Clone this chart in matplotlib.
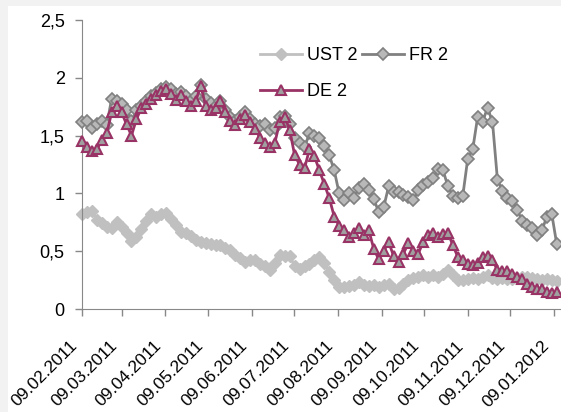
import matplotlib
matplotlib.use("Agg")
import matplotlib.pyplot as plt
import matplotlib.dates as mdates
from matplotlib.patches import Rectangle
from matplotlib.ticker import FuncFormatter
from matplotlib.transforms import ScaledTranslation
import pandas as pd

plt.rcParams["font.family"] = ["Liberation Sans", "DejaVu Sans"]

# 2y government yields, sampled every 3.5 days from 09.02.2011
dates = pd.date_range("2011-02-09", periods=97, freq="84h")

ust2 = [0.82, 0.84, 0.85, 0.77, 0.74, 0.71, 0.70, 0.75, 0.71, 0.66,
        0.59, 0.62, 0.69, 0.76, 0.82, 0.80, 0.82, 0.83, 0.78, 0.73,
        0.67, 0.66, 0.63, 0.60, 0.58, 0.57, 0.56, 0.55, 0.55, 0.53,
        0.51, 0.47, 0.44, 0.41, 0.42, 0.42, 0.39, 0.37, 0.34, 0.40,
        0.47, 0.46, 0.46, 0.37, 0.35, 0.37, 0.39, 0.42, 0.45, 0.40,
        0.32, 0.25, 0.19, 0.19, 0.20, 0.21, 0.23, 0.21, 0.20, 0.21,
        0.19, 0.21, 0.22, 0.17, 0.18, 0.22, 0.25, 0.27, 0.28, 0.29,
        0.28, 0.29, 0.28, 0.30, 0.34, 0.29, 0.25, 0.25, 0.26, 0.27,
        0.26, 0.28, 0.29, 0.27, 0.26, 0.27, 0.26, 0.26, 0.27, 0.28,
        0.28, 0.27, 0.26, 0.25, 0.26, 0.25, 0.24]

fr2 = [1.62, 1.63, 1.57, 1.60, 1.63, 1.59, 1.82, 1.80, 1.77, 1.72,
       1.63, 1.72, 1.76, 1.80, 1.84, 1.87, 1.90, 1.92, 1.90, 1.86,
       1.88, 1.84, 1.80, 1.84, 1.94, 1.82, 1.78, 1.76, 1.80, 1.72,
       1.66, 1.63, 1.66, 1.70, 1.64, 1.60, 1.58, 1.60, 1.55, 1.57,
       1.66, 1.67, 1.60, 1.48, 1.44, 1.40, 1.52, 1.50, 1.48, 1.41,
       1.33, 1.20, 1.00, 0.94, 1.00, 0.96, 1.05, 1.08, 1.03, 0.95,
       0.84, 0.88, 1.06, 1.01, 1.01, 0.99, 0.97, 0.94, 1.03, 1.07,
       1.10, 1.13, 1.21, 1.20, 1.06, 0.98, 0.96, 0.98, 1.30, 1.38,
       1.66, 1.62, 1.74, 1.62, 1.12, 1.02, 0.96, 0.93, 0.86, 0.76,
       0.73, 0.70, 0.64, 0.68, 0.80, 0.82, 0.56]

de2 = [1.45, 1.40, 1.37, 1.38, 1.46, 1.52, 1.70, 1.76, 1.70, 1.60,
       1.50, 1.64, 1.74, 1.77, 1.82, 1.85, 1.89, 1.90, 1.86, 1.81,
       1.85, 1.80, 1.76, 1.80, 1.93, 1.76, 1.72, 1.74, 1.80, 1.70,
       1.63, 1.59, 1.64, 1.68, 1.62, 1.56, 1.48, 1.44, 1.40, 1.44,
       1.62, 1.66, 1.55, 1.33, 1.25, 1.22, 1.38, 1.32, 1.20, 1.08,
       0.96, 0.80, 0.72, 0.68, 0.62, 0.66, 0.70, 0.64, 0.68, 0.52,
       0.43, 0.50, 0.58, 0.46, 0.41, 0.48, 0.57, 0.50, 0.48, 0.58,
       0.64, 0.66, 0.62, 0.65, 0.66, 0.55, 0.45, 0.42, 0.39, 0.38,
       0.40, 0.45, 0.46, 0.42, 0.34, 0.33, 0.33, 0.30, 0.28, 0.26,
       0.22, 0.19, 0.17, 0.17, 0.15, 0.14, 0.15]

fig = plt.figure(figsize=(5.61, 4.12), dpi=100)
fig.patch.set_facecolor("#f2f2f2")
fig.add_artist(Rectangle((8 / 561, 0), 1, 1 - 6 / 412, transform=fig.transFigure,
                         facecolor="white", edgecolor="none", zorder=-10))
ax = fig.add_axes([82 / 561, 1 - 309 / 412, 1 - 82 / 561, (309 - 20) / 412])
ax.set_facecolor("none")

ax.plot(dates, ust2, color="#c0c0c0", lw=2, marker="D", ms=6,
        mfc="#c0c0c0", mec="#c0c0c0", label="UST 2", clip_on=False, zorder=2)
ax.plot(dates, fr2, color="#808080", lw=2, marker="D", ms=6,
        mfc="#b8b8b8", mec="#808080", mew=1.2, label="FR 2", clip_on=False, zorder=3)
ax.plot(dates, de2, color="#993366", lw=2, marker="^", ms=7,
        mfc="#a0a0a0", mec="#993366", mew=1.5, label="DE 2", clip_on=False, zorder=4)

ax.set_ylim(0, 2.5)
ax.set_yticks([0, 0.5, 1, 1.5, 2, 2.5])
ax.yaxis.set_major_formatter(FuncFormatter(lambda v, p: f"{v:g}".replace(".", ",")))
ax.set_xlim(pd.Timestamp("2011-02-09"), pd.Timestamp("2012-01-14"))
ax.xaxis.set_major_locator(mdates.MonthLocator(bymonthday=9))
ax.xaxis.set_major_formatter(mdates.DateFormatter("%d.%m.%Y"))

for s in ("top", "right"):
    ax.spines[s].set_visible(False)
for s in ("left", "bottom"):
    ax.spines[s].set_color("#888888")
ax.tick_params(axis="both", direction="out", length=5, color="#888888", width=1)
ax.tick_params(axis="y", labelsize=13, pad=7.5)
ax.tick_params(axis="x", labelsize=12.5, pad=16)
shift = ScaledTranslation(-12 / 100, 0, fig.dpi_scale_trans)
for lab in ax.get_xticklabels():
    lab.set_rotation(45)
    lab.set_ha("right")
    lab.set_va("top")
    lab.set_rotation_mode("anchor")
    lab.set_transform(lab.get_transform() + shift)

h, l = ax.get_legend_handles_labels()
ax.legend([h[0], h[2], h[1]], [l[0], l[2], l[1]], ncol=2, frameon=False,
          loc="upper left", bbox_to_anchor=(0.372, 0.905), fontsize=13,
          handlelength=2.3, handletextpad=0.3, columnspacing=0.25,
          labelspacing=1.05, borderaxespad=0, borderpad=0)

fig.savefig("out.png", dpi=100, facecolor=fig.get_facecolor())
